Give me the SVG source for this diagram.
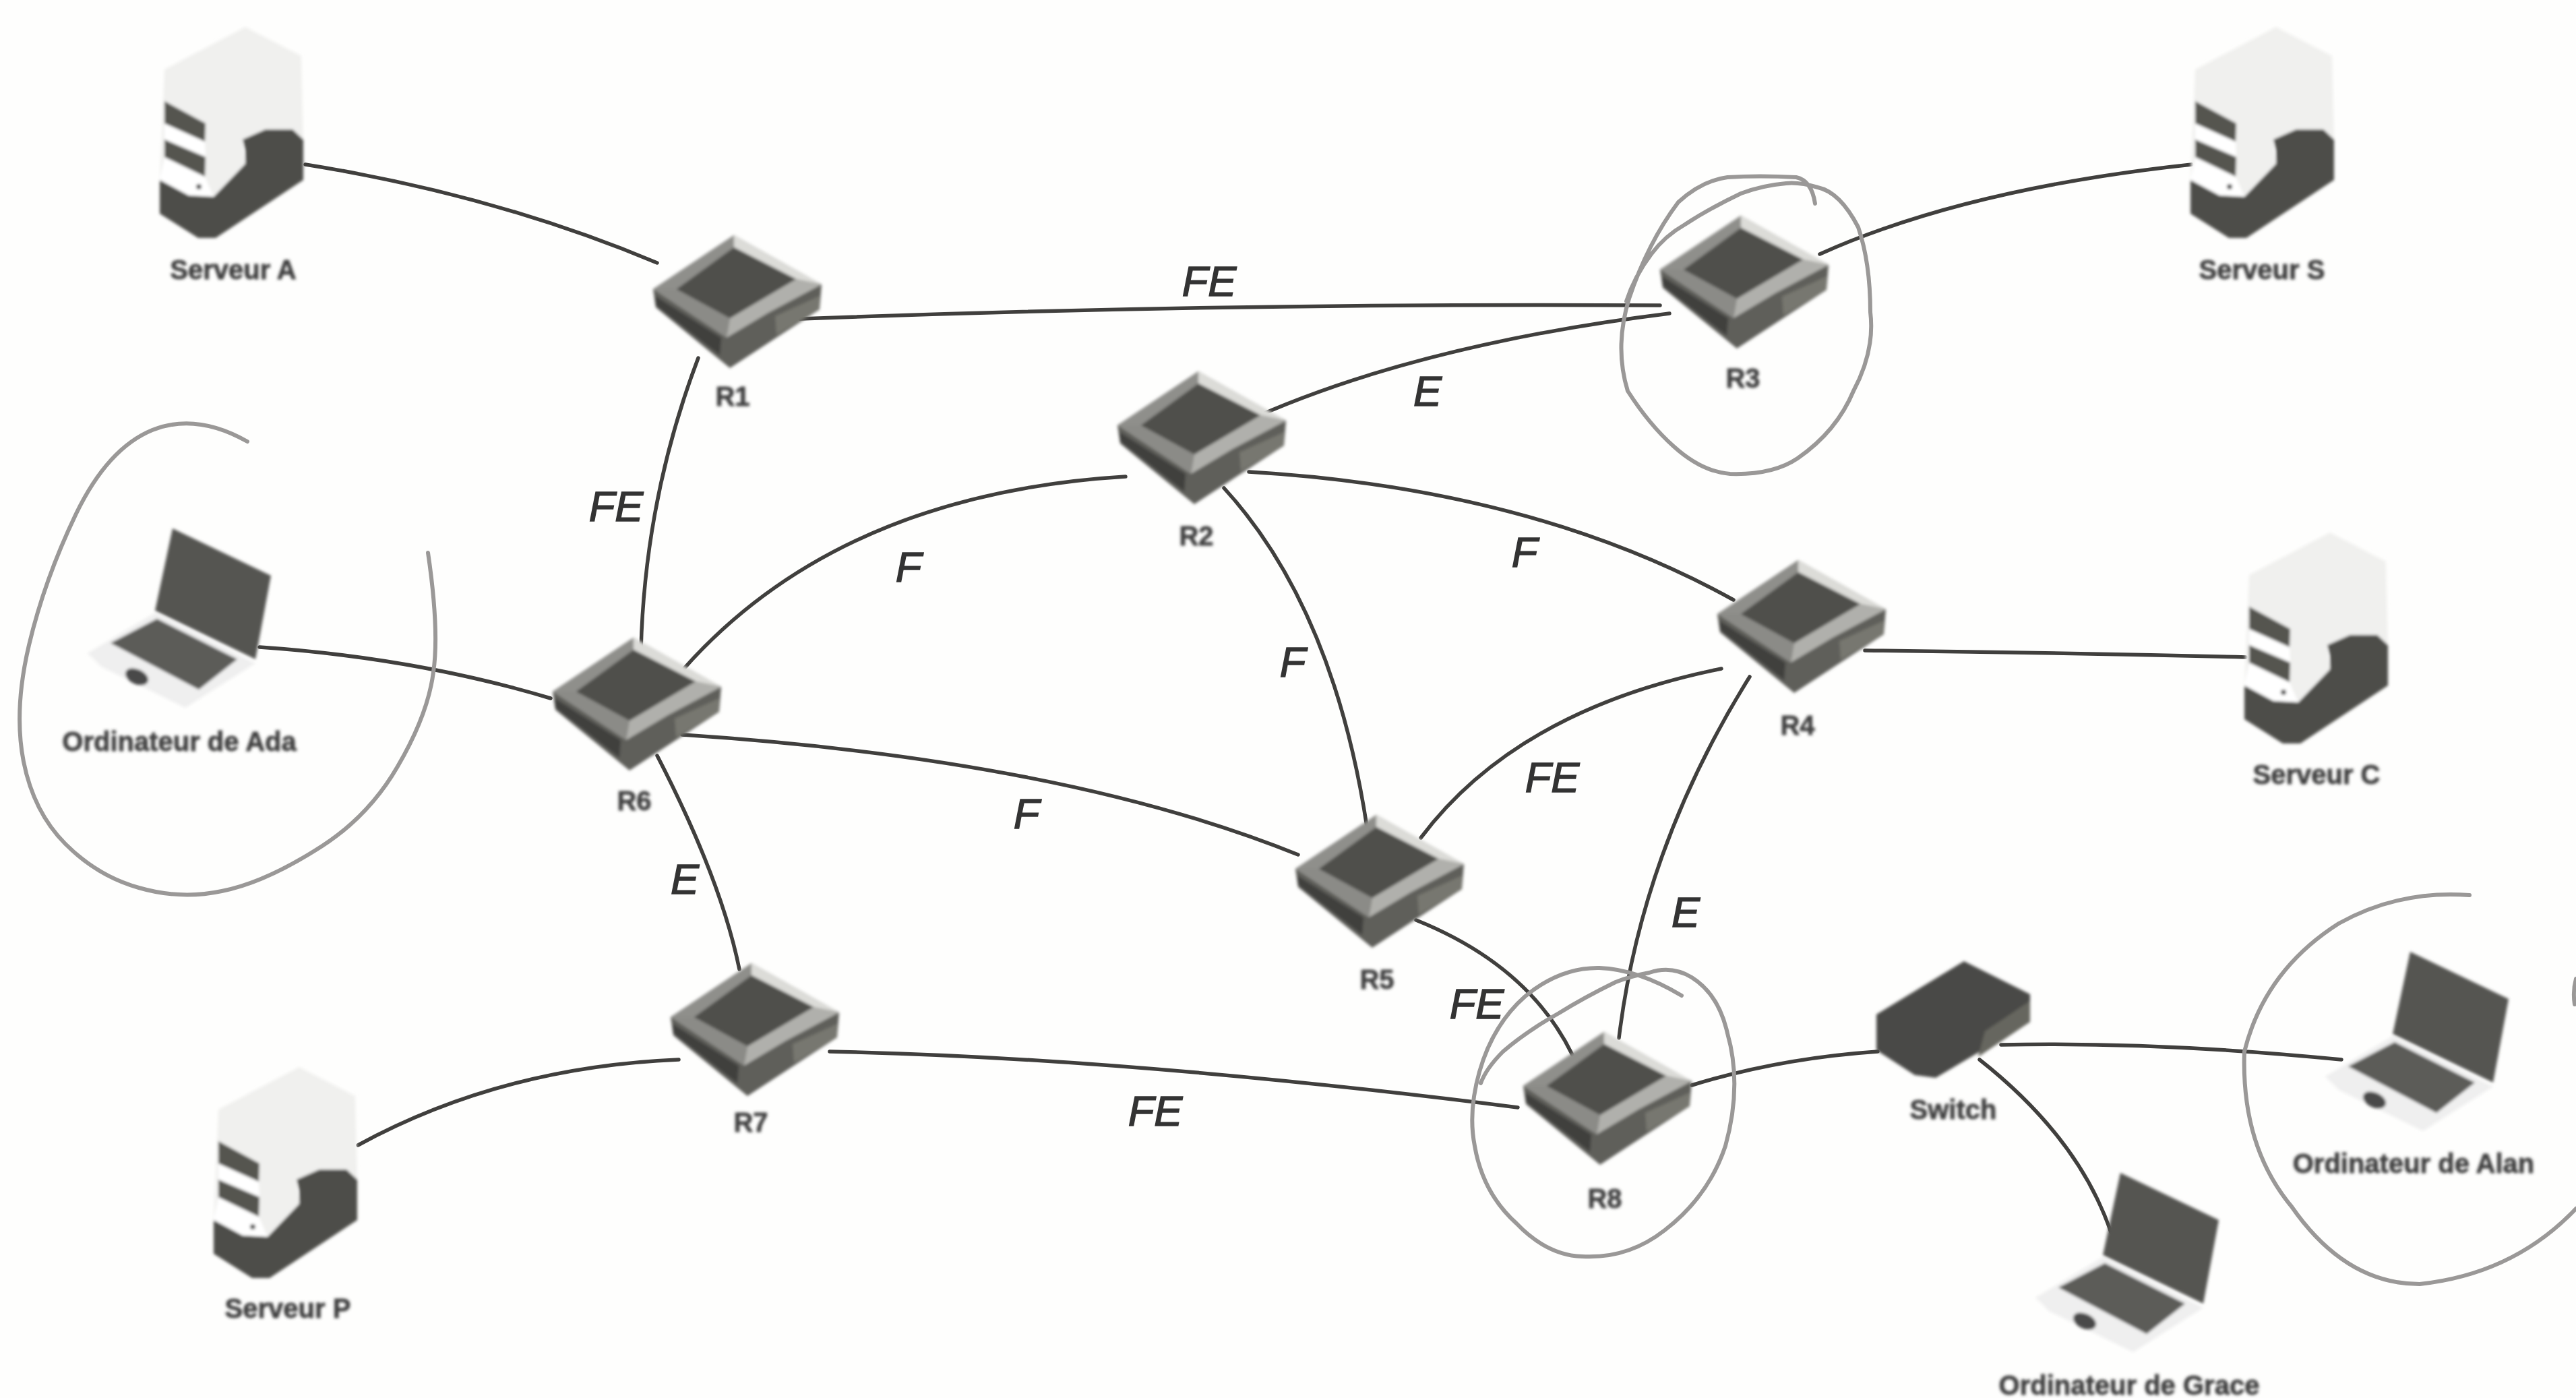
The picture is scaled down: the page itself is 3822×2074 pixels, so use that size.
<svg xmlns="http://www.w3.org/2000/svg" width="3822" height="2074" viewBox="0 0 3822 2074">
<style>
.c{fill:none;stroke:#403f3d;stroke-width:5.5;stroke-linecap:round}
.h{fill:none;stroke:#9a9897;stroke-width:6;stroke-linecap:round;stroke-linejoin:round}
.n{font-family:"Liberation Sans",Arial,sans-serif;font-weight:700;font-size:40px;fill:#3f3f3f;stroke:#3f3f3f;stroke-width:.8;text-anchor:middle}
.l{font-family:"Liberation Sans",Arial,sans-serif;font-style:italic;font-size:63px;fill:#333;stroke:#333;stroke-width:1.5;text-anchor:middle}
</style>
<defs>
<filter id="b" x="-5%" y="-5%" width="110%" height="110%"><feGaussianBlur stdDeviation="2.2"/></filter>
<g id="router">
<polygon points="-121,-10 -117,17 -7,107 126,20 129,-17 -1,-90" fill="#5e5e5a"/>
<polygon points="-117,14 -118,0 -20,62 -22,88" fill="#3f3f3c"/>
<polygon points="-121,-10 -86,-10 -7,33 -12,62" fill="#8b8b87"/>
<polygon points="-1,-90 -1,-72 -86,-10 -121,-10" fill="#8f8f8b"/>
<polygon points="-1,-90 129,-17 91,-25 -1,-72" fill="#dcdcd8"/>
<polygon points="129,-17 91,-25 -7,33 -12,62 50,25" fill="#b0b0ac"/>
<polygon points="60,30 126,0 126,20 62,58" fill="#77776f"/>
<polygon points="-1,-72 91,-25 -7,33 -86,-10" fill="#50504c"/>
</g>
<g id="server">
<polygon points="5,66 125,3 208,46 211,170 121,170 125,206 78,255 41,253 -2,230" fill="#f0f0ee"/>
<polygon points="5,146 65,173 66,196 5,170" fill="#fff"/>
<polygon points="5,196 65,225 78,255 41,253 -2,230" fill="#fff"/>
<polygon points="121,170 155,155 195,155 211,170 211,230 81,316 55,316 -2,280 -2,230 41,253 78,255 125,206 125,186" fill="#4d4d49"/>
<polygon points="5,113 66,146 65,173 5,146" fill="#55554f"/>
<polygon points="5,170 66,196 65,225 5,196" fill="#55554f"/>
<circle cx="56" cy="240" r="4" fill="#555"/>
</g>
<g id="laptop">
<polygon points="100,125 249,200 145,266 20,205 0,185" fill="#efefef"/>
<polygon points="126,0 272,70 249,194 100,122" fill="#555551"/>
<polygon points="34,170 103,134 222,194 165,239" fill="#5c5c58"/>
<ellipse cx="73" cy="220" rx="18" ry="11" transform="rotate(25 73 220)" fill="#4a4a48"/>
</g>
</defs>
<rect width="3822" height="2074" fill="#fefefd"/>
<g id="connectors">
<path class="c" d="M453 244Q734 289 975 390"/>
<path class="c" d="M1187 473Q1832 449 2463 453"/>
<path class="c" d="M2700 377Q2916 280 3252 244"/>
<path class="c" d="M1840 629Q2091 513 2477 465"/>
<path class="c" d="M1036 531Q957 739 951 963"/>
<path class="c" d="M1012 995Q1243 733 1670 707"/>
<path class="c" d="M1853 700Q2274 725 2572 890"/>
<path class="c" d="M1816 724Q1978 901 2028 1226"/>
<path class="c" d="M2108 1243Q2251 1053 2554 992"/>
<path class="c" d="M2767 965Q3050 968 3332 975"/>
<path class="c" d="M2596 1004Q2436 1260 2402 1540"/>
<path class="c" d="M1012 1090Q1577 1127 1926 1268"/>
<path class="c" d="M975 1121Q1070 1305 1097 1438"/>
<path class="c" d="M385 960Q617 976 817 1036"/>
<path class="c" d="M1231 1560Q1669 1569 2252 1643"/>
<path class="c" d="M531 1699Q743 1583 1007 1572"/>
<path class="c" d="M2101 1365Q2268 1432 2333 1565"/>
<path class="c" d="M2510 1610Q2640 1570 2786 1560"/>
<path class="c" d="M2969 1550Q3200 1545 3474 1572"/>
<path class="c" d="M2937 1572Q3084 1688 3132 1828"/>
</g>
<g id="annotations">
<path id="circle-ada" class="h" d="M367 655Q291 612 226 638Q160 665 113 762Q66 860 43 957Q20 1054 35 1130Q50 1205 97 1252Q145 1300 206 1317Q268 1335 329 1322Q390 1310 467 1262Q545 1215 590 1137Q635 1060 643 997Q652 935 635 820"/>
<path id="circle-r3" class="h" d="M2693 302Q2688 268 2665 263Q2610 260 2563 263Q2525 268 2490 300Q2445 360 2417 443Q2395 515 2415 580Q2447 630 2483 662Q2525 700 2567 703Q2630 705 2667 680Q2725 640 2750 580Q2782 520 2775 463Q2775 390 2757 337Q2730 285 2697 278Q2670 270 2650 272Q2615 275 2583 287Q2535 310 2500 333Q2470 350 2450 377Q2425 410 2413 447"/>
<path id="circle-r8" class="h" d="M2495 1477Q2430 1438 2373 1436Q2315 1435 2263 1478Q2215 1520 2195 1590Q2178 1650 2188 1700Q2200 1770 2250 1815Q2295 1862 2347 1864Q2415 1868 2470 1825Q2535 1775 2560 1700Q2585 1610 2563 1533Q2550 1475 2510 1450Q2480 1432 2447 1443Q2420 1448 2397 1457Q2350 1480 2313 1503Q2265 1530 2230 1560Q2205 1585 2197 1607"/>
<path id="circle-alan" class="h" d="M3664 1328Q3560 1320 3470 1370Q3360 1440 3330 1560Q3325 1700 3400 1790Q3480 1905 3590 1905Q3730 1890 3822 1793"/>
<path id="arc-right" class="h" d="M3822 1452Q3817 1470 3820 1490"/>
</g>
<g filter="url(#b)">
<g id="router-r1"><use href="#router" x="1090" y="439"/><text class="n" x="1087" y="602">R1</text></g>
<g id="router-r2"><use href="#router" x="1779" y="641"/><text class="n" x="1775" y="809">R2</text></g>
<g id="router-r3"><use href="#router" x="2584" y="410"/><text class="n" x="2586" y="575">R3</text></g>
<g id="router-r4"><use href="#router" x="2669" y="921"/><text class="n" x="2667" y="1090">R4</text></g>
<g id="router-r5"><use href="#router" x="2043" y="1299"/><text class="n" x="2043" y="1467">R5</text></g>
<g id="router-r6"><use href="#router" x="941" y="1036"/><text class="n" x="941" y="1202">R6</text></g>
<g id="router-r7"><use href="#router" x="1116" y="1519"/><text class="n" x="1114" y="1679">R7</text></g>
<g id="router-r8"><use href="#router" x="2381" y="1621"/><text class="n" x="2381" y="1792">R8</text></g>
<g id="server-a"><use href="#server" x="239" y="37"/><text class="n" x="346" y="414">Serveur A</text></g>
<g id="server-s"><use href="#server" x="3252" y="37"/><text class="n" x="3356" y="414">Serveur S</text></g>
<g id="server-c"><use href="#server" x="3332" y="787"/><text class="n" x="3437" y="1163">Serveur C</text></g>
<g id="server-p"><use href="#server" x="319" y="1580"/><text class="n" x="427" y="1955">Serveur P</text></g>
<g id="laptop-ada"><use href="#laptop" x="130" y="784"/><text class="n" x="266" y="1114">Ordinateur de Ada</text></g>
<g id="laptop-alan"><use href="#laptop" x="3450" y="1412"/><text class="n" x="3581" y="1740">Ordinateur de Alan</text></g>
<g id="laptop-grace"><use href="#laptop" x="3020" y="1740"/><text class="n" x="3159" y="2069">Ordinateur de Grace</text></g>
<g id="switch"><polygon points="2914,1426 3012,1475 3012,1516 2872,1599 2841,1595 2784,1558 2784,1505" fill="#4a4a46"/><polygon points="3012,1485 3012,1516 2935,1568 2945,1530" fill="#66665f"/><text class="n" x="2898" y="1660">Switch</text></g>
</g>
<g id="labels">
<text class="l" x="1794" y="439">FE</text>
<text class="l" x="2118" y="602">E</text>
<text class="l" x="914" y="773">FE</text>
<text class="l" x="1348" y="863">F</text>
<text class="l" x="2262" y="841">F</text>
<text class="l" x="1918" y="1004">F</text>
<text class="l" x="2303" y="1175">FE</text>
<text class="l" x="1523" y="1229">F</text>
<text class="l" x="1016" y="1326">E</text>
<text class="l" x="2501" y="1375">E</text>
<text class="l" x="2191" y="1511">FE</text>
<text class="l" x="1714" y="1670">FE</text>
</g>
</svg>
